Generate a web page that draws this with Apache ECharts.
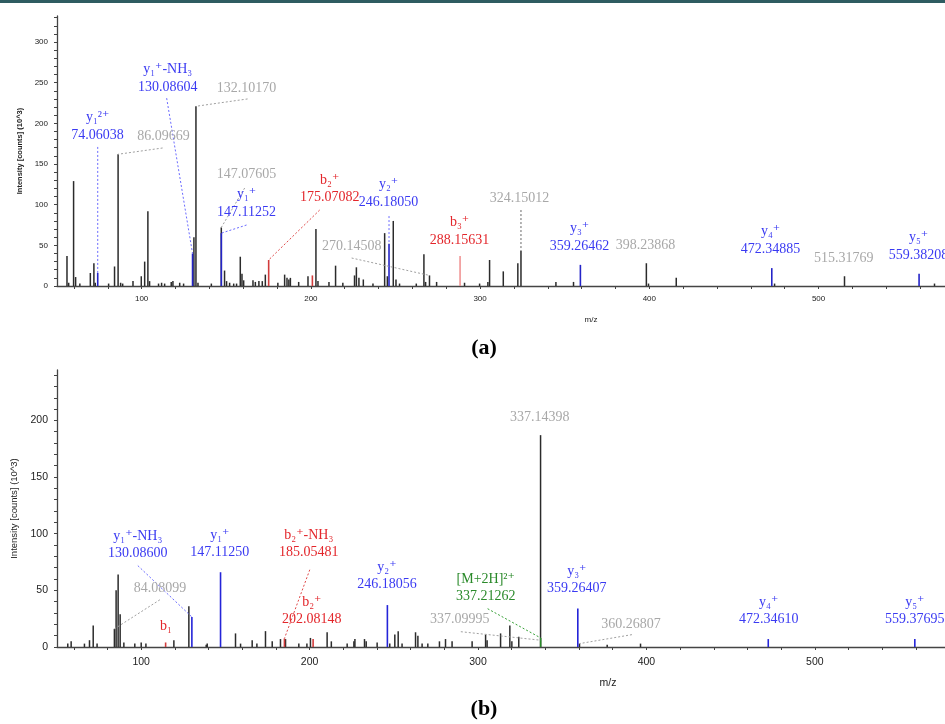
<!DOCTYPE html>
<html>
<head>
<meta charset="utf-8">
<title>MS/MS spectra (a) and (b)</title>
<script src="https://cdn.jsdelivr.net/npm/echarts@6.0.0/dist/echarts.min.js"></script>
<style>
  html, body { margin: 0; padding: 0; background: #fff; }
  #chart { width: 945px; height: 724px; }
</style>
</head>
<body>
<div id="chart"></div>
<script>
// ---- axis ticks / labels ----
const xTicks = [60, 80, 100, 120, 140, 160, 180, 200, 220, 240, 260, 280, 300, 320, 340, 360, 380, 400,
  420, 440, 460, 480, 500, 520, 540, 560];
const xLabels = [100, 200, 300, 400, 500];
const yTicksA = [0, 10, 20, 30, 40, 50, 60, 70, 80, 90, 100, 110, 120, 130, 140, 150, 160, 170, 180, 190,
  200, 210, 220, 230, 240, 250, 260, 270, 280, 290, 300, 310, 320, 330];
const yLabelsA = [0, 50, 100, 150, 200, 250, 300];
const yTicksB = [0, 10, 20, 30, 40, 50, 60, 70, 80, 90, 100, 110, 120, 130, 140, 150, 160, 170, 180, 190,
  200, 210, 220, 230, 240];
const yLabelsB = [0, 50, 100, 150, 200];

// ---- panel (a) peaks [m/z, intensity x10^3] ----
const peaksA = [[55.9,37],[56.9,4],[59.8,129],[61.0,11],[63.5,3],[69.7,16],[71.8,28],[72.6,4],[80.5,3],
  [84.0,24],[86.1,162],[87.6,4],[88.8,3],[94.9,6],[99.8,12],[101.8,30],[103.7,92],[104.7,6],[110.0,3],
  [111.8,4],[113.6,3],[117.5,5],[118.5,6],[122.5,4],[124.8,3],[130.9,60],[132.1,221],[133.3,4],[141.2,3],
  [147.08,72],[149.0,19],[150.2,6],[152.0,4],[154.4,3],[156.1,3],[158.3,36],[159.3,15],[160.3,7],
  [165.8,7],[167.2,5],[169.3,6],[171.3,6],[173.1,14],[180.5,4],[184.5,14],[185.9,10],[187.0,8],
  [187.9,10],[192.8,5],[198.3,12],[203.0,70],[204.2,6],[210.7,5],[214.6,25],[218.9,4],[225.8,13],
  [226.9,23],[228.4,10],[231.0,8],[236.7,3],[243.6,65],[245.2,12],[248.7,80],[250.3,8],[252.4,3],
  [262.3,3],[266.8,39],[267.8,5],[270.1,13],[274.3,5],[290.8,4],[299.7,3],[304.6,5],[305.6,32],
  [313.7,18],[322.3,28],[324.15,43],[344.8,5],[355.2,5],[398.24,28],[399.5,3],[415.9,10],[474.0,3],
  [515.32,12],[568.5,3]];
const yIonsA = [[74.06,16],[130.09,40],[147.11,65],[246.18,52],[359.26,26],[472.35,22],[559.38,15]];
const bIonsA = [[175.07,32],[200.9,13]];
const bIonsFaintA = [[288.16,37]];

// ---- panel (b) peaks ----
const peaksB = [[56.4,3],[58.4,5],[66.3,3],[69.3,6],[71.5,19],[73.8,3],[84.08,16],[85.1,50],[86.3,64],
  [87.5,29],[89.7,4],[96.2,3],[100.0,4],[102.8,3],[119.4,6],[128.3,36],[138.6,2],[139.2,3],[156.0,12],
  [159.0,3],[165.9,6],[168.7,3],[173.8,14],[177.8,5],[182.7,7],[185.7,7],[193.6,3],[198.4,3],[200.5,8],
  [210.4,13],[212.9,5],[222.3,3],[226.3,5],[226.9,7],[232.6,7],[233.6,5],[240.1,4],[247.6,3],[250.6,11],
  [252.6,14],[254.9,3],[262.9,13],[264.3,10],[266.8,3],[270.2,3],[277.1,5],[280.7,7],[284.6,5],
  [296.5,5],[304.5,11],[305.4,6],[313.4,12],[318.9,19],[320.1,5],[324.2,9],[337.14,187],[360.27,3],
  [376.7,2],[396.5,3]];
const yIonsB = [[130.09,26.5],[147.11,66],[246.18,37],[359.26,34],[472.35,7],[559.38,7]];
const bIonsB = [[114.5,4],[185.05,7.5],[202.08,7]];
const mIonsB = [[337.21,8]];

// ---- annotations: ion name, m/z text, type ----
const annIonA = ['y₁²⁺', 'y₁⁺-NH₃', '', '', '', 'y₁⁺', 'b₂⁺', 'y₂⁺', '', 'b₃⁺', '', 'y₃⁺', '', 'y₄⁺', '', 'y₅⁺'];
const annMzA = ['74.06038', '130.08604', '132.10170', '86.09669', '147.07605', '147.11252', '175.07082',
  '246.18050', '270.14508', '288.15631', '324.15012', '359.26462', '398.23868', '472.34885', '515.31769', '559.38208'];
const annTypeA = ['y', 'y', 'o', 'o', 'o', 'y', 'b', 'y', 'o', 'b', 'k', 'y', 'o', 'y', 'o', 'y'];

const annIonB = ['y₁⁺-NH₃', '', 'b₁', 'y₁⁺', 'b₂⁺-NH₃', 'b₂⁺', 'y₂⁺', '[M+2H]²⁺', '', '', 'y₃⁺', '', 'y₄⁺', 'y₅⁺'];
const annMzB = ['130.08600', '84.08099', '', '147.11250', '185.05481', '202.08148', '246.18056', '337.21262',
  '337.09995', '337.14398', '359.26407', '360.26807', '472.34610', '559.37695'];
const annTypeB = ['y', 'o', 'b', 'y', 'b', 'b', 'y', 'm', 'o', 'o', 'y', 'o', 'y', 'y'];

// layout of the annotation text (centre of the m/z line, in axis units) and leader lines
const annPosA = [[74.0,185.7],[115.4,244.7],[162.0,243.5],[113.0,184.4],[162.0,137.7],[162.0,91],
  [211.1,108.6],[245.9,103.3],[224.1,49.2],[287.9,56.6],[323.3,108.2],[358.8,49.2],[397.8,50.4],
  [471.6,45.5],[514.8,34.4],[559.1,38.1]];
const annLeadA = [[74.06,171,74.06,16],[114.8,231,130.09,40],[162.6,230,132.1,221],[112.4,169.7,86.1,162],
  [160.9,120.5,147.08,72],[162,75,147.11,65],[205.2,93.4,175.07,32],[246.18,86,246.18,52],
  [224.1,34.4,270.1,13],null,[324.15,93.4,324.15,43],null,null,null,null,null];
const annPosB = [[98.0,82.3],[111.1,51.5],[114.7,17.9],[146.7,83.2],[199.5,83.2],[201.3,24.1],[245.9,55],
  [304.6,44.4],[289.2,24.1],[336.7,202.4],[358.7,52.2],[390.8,19.7],[472.6,24.1],[559.4,24.1]];
const annLeadB = [[98,71.8,130.09,26.5],[111.1,41.7,84.08,16],null,null,[200.1,68.2,185.05,7.5],null,null,
  [305.7,33.8,337.21,8],[289.8,13.5,337.1,6],null,null,[391.4,10.9,360.27,3],null,null];

// ---- styles ----
const TEXT = { y: '#3a3af2', b: '#e3262b', m: '#2a8a2a', o: '#a8a8a8', k: '#a8a8a8' };
const LEAD = { y: '#6b6bff', b: '#e04848', m: '#35a035', o: '#a0a0a0', k: '#666666' };
const SERIF = "'Liberation Serif', 'Times New Roman', 'DejaVu Serif', serif";
const SANS = "'Liberation Sans', Arial, sans-serif";

function stickSeries(idx, data, color, width) {
  return {
    type: 'custom', xAxisIndex: idx, yAxisIndex: idx, data: data, clip: true, silent: true,
    renderItem: function (params, api) {
      const p0 = api.coord([api.value(0), 0]);
      const p1 = api.coord([api.value(0), api.value(1)]);
      return { type: 'line', shape: { x1: p0[0], y1: p0[1], x2: p1[0], y2: p1[1] },
        style: { stroke: color, lineWidth: width } };
    }
  };
}

function leaderSeries(idx, leads, types) {
  const data = [], kinds = [];
  leads.forEach(function (l, i) { if (l) { data.push(l); kinds.push(types[i]); } });
  return {
    type: 'custom', xAxisIndex: idx, yAxisIndex: idx, data: data, clip: false, silent: true,
    renderItem: function (params, api) {
      const a = api.coord([api.value(0), api.value(1)]);
      const b = api.coord([api.value(2), api.value(3)]);
      return { type: 'line', shape: { x1: a[0], y1: a[1], x2: b[0], y2: b[1] },
        style: { stroke: LEAD[kinds[params.dataIndex]], lineWidth: 1, lineDash: [2, 2] } };
    }
  };
}

function labelSeries(idx, pos, ions, mzs, types, gap) {
  return {
    type: 'custom', xAxisIndex: idx, yAxisIndex: idx, data: pos, clip: false, silent: true, z: 5,
    renderItem: function (params, api) {
      const i = params.dataIndex;
      const p = api.coord([api.value(0), api.value(1)]);
      const col = TEXT[types[i]];
      const kids = [];
      const st = function (t) {
        return { text: t, fill: col, font: '14px ' + SERIF, align: 'center', verticalAlign: 'middle' };
      };
      if (mzs[i]) kids.push({ type: 'text', x: p[0], y: p[1], style: st(mzs[i]) });
      if (ions[i]) kids.push({ type: 'text', x: p[0], y: mzs[i] ? p[1] - gap : p[1], style: st(ions[i]) });
      return { type: 'group', children: kids };
    }
  };
}

function xAxis(idx, max, fs, nameShift) {
  return {
    gridIndex: idx, type: 'value', min: 50, max: max,
    axisLine: { show: true, onZero: false, lineStyle: { color: '#444', width: 1.3 } },
    axisTick: { show: true, customValues: xTicks, length: 3, lineStyle: { color: '#444' } },
    axisLabel: { customValues: xLabels, fontSize: fs, fontFamily: SANS, color: '#222', margin: idx ? 10 : 9 },
    splitLine: { show: false },
    name: 'm/z', nameLocation: 'middle', nameGap: idx ? 31 : 30,
    nameTextStyle: { fontSize: fs, fontFamily: SANS, color: '#222', padding: [0, 0, 0, nameShift] }
  };
}

function yAxis(idx, max, ticks, labels, fs, gap, bold) {
  return {
    gridIndex: idx, type: 'value', min: 0, max: max,
    axisLine: { show: true, lineStyle: { color: '#444', width: 1.3 } },
    axisTick: { show: true, customValues: ticks, length: 3, lineStyle: { color: '#444' } },
    axisLabel: { customValues: labels, fontSize: fs, fontFamily: SANS, color: '#222', margin: 9 },
    splitLine: { show: false },
    name: 'Intensity [counts] (10^3)', nameLocation: 'middle', nameGap: gap,
    nameTextStyle: { fontSize: idx ? 9.5 : 7.5, fontFamily: SANS, color: '#222', fontWeight: bold ? 'bold' : 'normal' }
  };
}

const chart = echarts.init(document.getElementById('chart'), null, { renderer: 'canvas' });
chart.setOption({
  animation: false,
  backgroundColor: '#ffffff',
  grid: [
    { left: 57, top: 16, width: 888, height: 270 },
    { left: 57, top: 370, width: 888, height: 277 }
  ],
  xAxis: [xAxis(0, 574.7, 8, 180), xAxis(1, 577.3, 10.5, 214)],
  yAxis: [yAxis(0, 332, yTicksA, yLabelsA, 8, 33, true), yAxis(1, 244.5, yTicksB, yLabelsB, 10.5, 36, false)],
  graphic: [
    { type: 'rect', shape: { x: 0, y: 0, width: 945, height: 3 }, style: { fill: '#2e5c61' } },
    { type: 'text', x: 484, y: 348, style: { text: '(a)', font: 'bold 22px ' + SERIF, fill: '#000', align: 'center', verticalAlign: 'middle' } },
    { type: 'text', x: 484, y: 709, style: { text: '(b)', font: 'bold 22px ' + SERIF, fill: '#000', align: 'center', verticalAlign: 'middle' } }
  ],
  series: [
    stickSeries(0, peaksA, '#2b2b2b', 1.5),
    stickSeries(0, yIonsA, '#2424c8', 1.6),
    stickSeries(0, bIonsA, '#d23c3c', 1.6),
    stickSeries(0, bIonsFaintA, '#ee8585', 1.4),
    leaderSeries(0, annLeadA, annTypeA),
    labelSeries(0, annPosA, annIonA, annMzA, annTypeA, 17.5),

    stickSeries(1, peaksB, '#2b2b2b', 1.5),
    stickSeries(1, yIonsB, '#2424d8', 1.6),
    stickSeries(1, bIonsB, '#d23c3c', 1.6),
    stickSeries(1, mIonsB, '#2a8a2a', 1.6),
    leaderSeries(1, annLeadB, annTypeB),
    labelSeries(1, annPosB, annIonB, annMzB, annTypeB, 17)
  ]
});
</script>
</body>
</html>
